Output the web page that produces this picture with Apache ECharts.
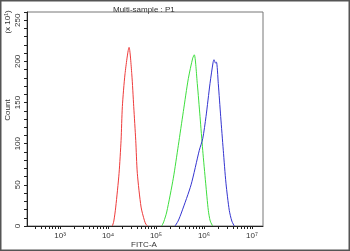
<!DOCTYPE html>
<html>
<head>
<meta charset="utf-8">
<script src="https://cdn.jsdelivr.net/npm/echarts@6/dist/echarts.min.js"></script>
<style>
html,body{margin:0;padding:0;background:#fff;}
#c{width:350px;height:251px;}
</style>
</head>
<body>
<div id="c"></div>
<script>
// x values are log10(FITC-A), y values are counts in units of 10^1
var redX   = [4.09, 4.12, 4.16, 4.229, 4.271, 4.298, 4.354, 4.438, 4.494, 4.535, 4.577, 4.61, 4.688, 4.756, 4.79, 4.827];
var redY   = [0, 6, 23, 64, 104, 145, 185, 217, 185, 145, 104, 64, 23, 7, 2, 0];
var greenX = [5.119, 5.16, 5.223, 5.36, 5.465, 5.569, 5.673, 5.765, 5.798, 5.86, 5.917, 5.973, 6.035, 6.09, 6.13, 6.181];
var greenY = [0, 5, 17, 58, 98, 139, 179, 204, 208, 173, 133, 92, 52, 19, 6, 0];
var blueX  = [5.396, 5.46, 5.535, 5.73, 5.902, 5.973, 6.042, 6.125, 6.19, 6.208, 6.24, 6.26, 6.298, 6.348, 6.402, 6.458, 6.527, 6.58, 6.631];
var blueY  = [0, 6, 17, 50, 92, 106, 133, 173, 199, 202, 198, 199, 173, 133, 92, 52, 19, 6, 0];
var decades = [3, 4, 5, 6, 7];
var yLabels = [0, 50, 100, 150, 200, 250];

function pairs(xs, ys){ return xs.map(function(x,i){ return [x, ys[i]]; }); }
var sup = {'3':'³','4':'⁴','5':'⁵','6':'⁶','7':'⁷'};
var xTicks = [];
for (var d = 2; d <= 6; d++) {
  for (var k = 1; k <= 9; k++) {
    var v = d + Math.log10(k);
    if (v >= 2.31 && v <= 7.23) xTicks.push(v);
  }
}
xTicks.push(7);

var chart = echarts.init(document.getElementById('c'));
var font = 'Liberation Sans, Arial, sans-serif';
chart.setOption({
  animation: false,
  backgroundColor: '#fff',
  title: {
    text: 'Multi-sample : P1', left: 108, top: 1,
    textStyle: {fontSize: 8, fontWeight: 'normal', color: '#333', fontFamily: font}
  },
  grid: {left: 27, top: 12, right: 87, bottom: 25, show: true, borderColor: '#777', borderWidth: 1},
  xAxis: {
    type: 'value', min: 2.31, max: 7.23,
    axisLine: {lineStyle: {color: '#222', width: 1}},
    splitLine: {show: false},
    axisTick: {show: true, length: 3, customValues: xTicks, lineStyle: {color: '#222'}},
    axisLabel: {
      customValues: decades, margin: 6, fontSize: 8, color: '#333', fontFamily: font,
      formatter: function(v){ return '10' + (sup[String(Math.round(v))] || ''); }
    }
  },
  yAxis: {
    type: 'value', min: 0, max: 260, interval: 10,
    axisLine: {show: true, lineStyle: {color: '#222', width: 1}},
    splitLine: {show: false},
    axisTick: {show: true, length: 3, lineStyle: {color: '#222'}},
    axisLabel: {
      rotate: 90, margin: 5, fontSize: 8, color: '#333', fontFamily: font,
      formatter: function(v){ return yLabels.indexOf(v) >= 0 ? String(v) : ''; }
    }
  },
  graphic: [
    {type: 'rect', shape: {x: 0.5, y: 0.5, width: 349, height: 250}, style: {fill: 'none', stroke: '#555', lineWidth: 2}, silent: true},
    {type: 'text', x: 4, y: 22, rotation: Math.PI/2, style: {text: '(x 10¹)', font: '8px ' + font, fill: '#333', textAlign: 'center', textVerticalAlign: 'top'}},
    {type: 'text', x: 4, y: 110, rotation: Math.PI/2, style: {text: 'Count', font: '8px ' + font, fill: '#333', textAlign: 'center', textVerticalAlign: 'top'}},
    {type: 'text', x: 144, y: 241, style: {text: 'FITC-A', font: '8px ' + font, fill: '#333', textAlign: 'center', textVerticalAlign: 'top'}}
  ],
  series: [
    {type: 'line', data: pairs(redX, redY), showSymbol: false, smooth: 0.25, lineStyle: {color: '#ee3b3b', width: 1}},
    {type: 'line', data: pairs(greenX, greenY), showSymbol: false, smooth: 0.25, lineStyle: {color: '#3ede3e', width: 1}},
    {type: 'line', data: pairs(blueX, blueY), showSymbol: false, smooth: 0.25, lineStyle: {color: '#3434d0', width: 1}}
  ]
});
</script>
</body>
</html>
